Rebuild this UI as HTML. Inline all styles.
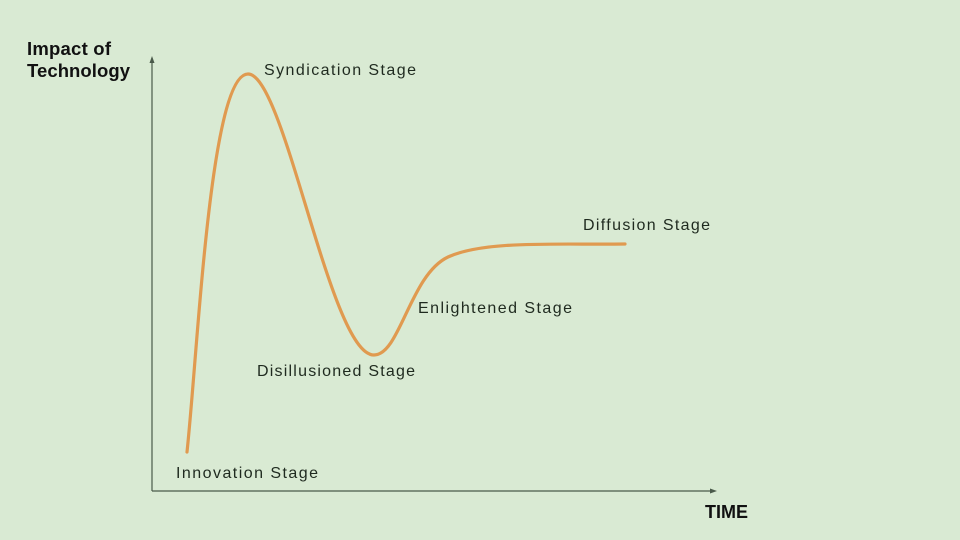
<!DOCTYPE html>
<html><head><meta charset="utf-8"><style>
html,body{margin:0;padding:0;background:#d9ead3;}
svg{display:block}
text{font-family:"Liberation Sans",sans-serif;fill:#1f2a1f}
</style></head><body>
<svg width="960" height="540" viewBox="0 0 960 540">
<rect width="960" height="540" fill="#d9ead3"/>
<line x1="152" y1="491" x2="152" y2="60" stroke="#4a5a4a" stroke-width="1.2"/>
<polygon points="152,56 149.5,63 154.5,63" fill="#4a5a4a"/>
<line x1="152" y1="491" x2="712" y2="491" stroke="#4a5a4a" stroke-width="1.2"/>
<polygon points="717,491 710,488.5 710,493.5" fill="#4a5a4a"/>
<path d="M187,452 C198,350 210,74 248,74 C285,74 330,355 374,355 C400,355 410,275 448,257 C485,240 560,245 625,244" fill="none" stroke="#e09a50" stroke-width="3.2" stroke-linecap="round"/>
<text x="27" y="55" font-size="18.5" font-weight="bold" textLength="84" style="fill:#111">Impact of</text>
<text x="27" y="77" font-size="18.5" font-weight="bold" textLength="103" style="fill:#111">Technology</text>
<text x="705" y="518" font-size="18" font-weight="bold" textLength="43" style="fill:#111">TIME</text>
<text x="264" y="75" font-size="16" textLength="152">Syndication Stage</text>
<text x="583" y="230" font-size="16" textLength="127">Diffusion Stage</text>
<text x="418" y="313" font-size="16" textLength="154">Enlightened Stage</text>
<text x="257" y="376" font-size="16" textLength="158">Disillusioned Stage</text>
<text x="176" y="478" font-size="16" textLength="142">Innovation Stage</text>
</svg>
</body></html>
